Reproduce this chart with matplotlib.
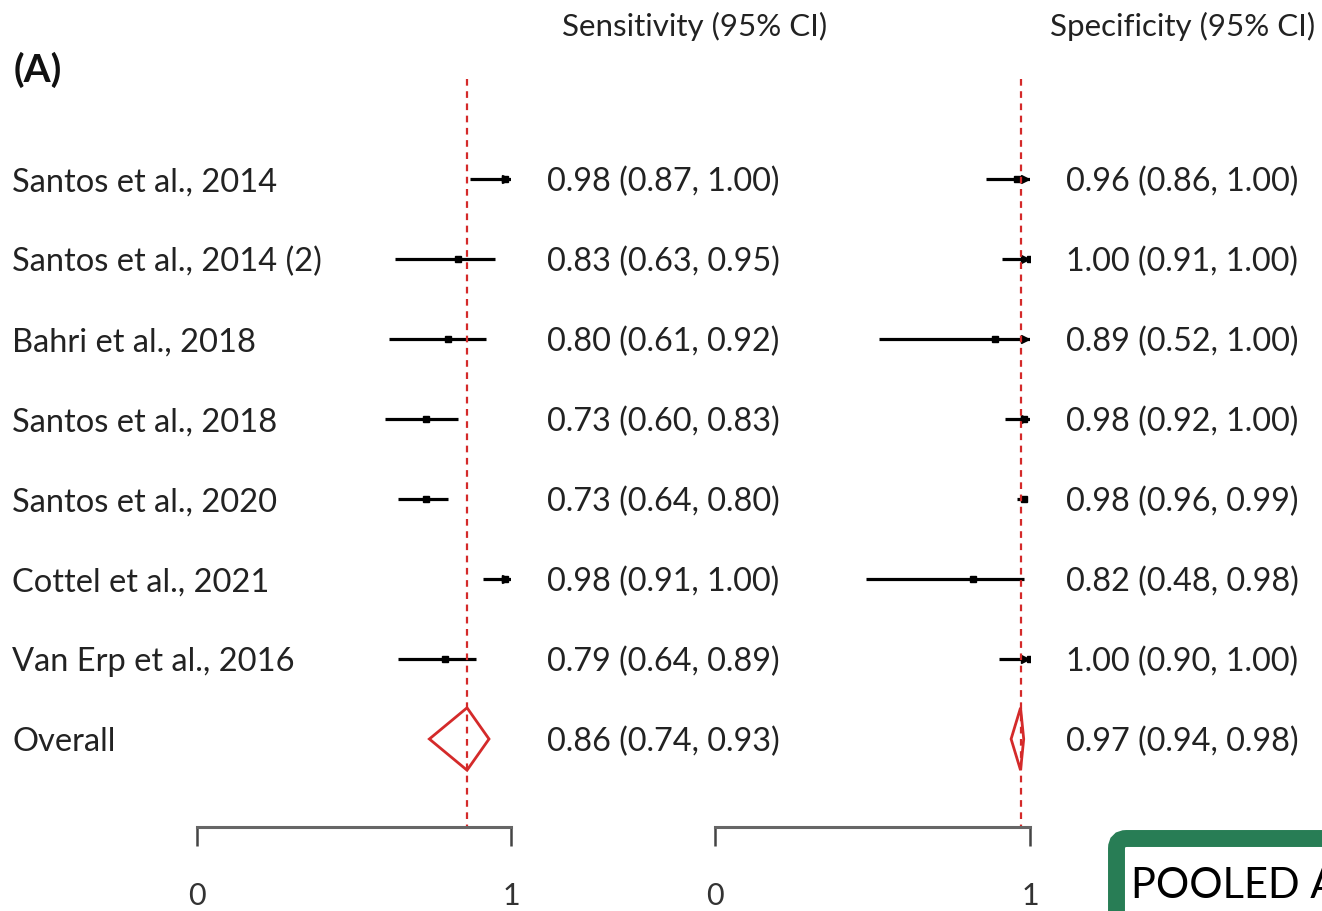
import numpy as np
import matplotlib
matplotlib.use("Agg")
import matplotlib.pyplot as plt
from matplotlib.patches import Polygon, FancyBboxPatch
from matplotlib.transforms import blended_transform_factory, IdentityTransform

plt.rcParams['font.family'] = ['Lato', 'DejaVu Sans']

studies = ["Santos et al., 2014", "Santos et al., 2014 (2)", "Bahri et al., 2018",
           "Santos et al., 2018", "Santos et al., 2020", "Cottel et al., 2021",
           "Van Erp et al., 2016"]
sens = [0.98, 0.83, 0.80, 0.73, 0.73, 0.98, 0.79]
sens_lo = [0.87, 0.63, 0.61, 0.60, 0.64, 0.91, 0.64]
sens_hi = [1.00, 0.95, 0.92, 0.83, 0.80, 1.00, 0.89]
spec = [0.96, 1.00, 0.89, 0.98, 0.98, 0.82, 1.00]
spec_lo = [0.86, 0.91, 0.52, 0.92, 0.96, 0.48, 0.90]
spec_hi = [1.00, 1.00, 1.00, 1.00, 0.99, 0.98, 1.00]
overall_sens = [0.86, 0.74, 0.93]
overall_spec = [0.97, 0.94, 0.98]

RED = '#d42a2a'
W, H = 1322, 912

fig = plt.figure(figsize=(W / 100, H / 100), dpi=100)

# row i sits at pixel 180 + 80*i from the top
def py(p):
    return (p - 180) / 80.0

def panel(x0, x1, est, lo, hi, pooled, header, header_x, text_x):
    ax = fig.add_axes([x0 / W, 0, (x1 - x0) / W, 1])
    ax.patch.set_visible(False)
    ax.set_xlim(0, 1)
    ax.set_ylim(py(H), py(0))
    rows = np.arange(len(est))
    ax.hlines(rows, lo, hi, color='black', lw=2.3)
    ax.plot(est, rows, 's', color='black', ms=4)
    for r, h in zip(rows, hi):
        if h >= 1.0:
            ax.plot(0.985, r, '>', color='black', ms=6, clip_on=False)
    e, l, h = pooled
    n = len(est)
    ax.add_patch(Polygon([[l, n], [e, n - 0.39], [h, n], [e, n + 0.39]],
                         closed=True, fill=False, edgecolor=RED, lw=2))
    ax.vlines(e, py(80), py(828), colors=RED, linestyles=(0, (3, 2.5)), lw=1.6)

    for s in ['top', 'left', 'right']:
        ax.spines[s].set_visible(False)
    ax.spines['bottom'].set_position(('data', py(828)))
    ax.spines['bottom'].set_color('#666666')
    ax.spines['bottom'].set_linewidth(2.2)
    ax.set_xticks([0, 1])
    ax.set_xticklabels(['0', '1'])
    ax.tick_params(axis='x', direction='out', length=14, width=1.8, color='#444444',
                   labelsize=22, pad=25, labelcolor='#333333')
    ax.set_yticks([])

    tr = blended_transform_factory(fig.transFigure, ax.transData)
    for r in rows:
        ax.text(text_x / W, r + 0.03, f"{est[r]:.2f} ({lo[r]:.2f}, {hi[r]:.2f})", transform=tr,
                ha='left', va='center', fontsize=23.3, color='#222222')
    ax.text(text_x / W, n + 0.03, f"{e:.2f} ({l:.2f}, {h:.2f})", transform=tr,
            ha='left', va='center', fontsize=23.3, color='#222222')
    ax.text(header_x / W, py(26), header, transform=tr, ha='center', va='center',
            fontsize=22.5, color='#222222')
    return ax, tr

ax_sens, tr = panel(197, 511, sens, sens_lo, sens_hi, overall_sens,
                    "Sensitivity (95% CI)", 695, 547)
ax_spec, _ = panel(715, 1030, spec, spec_lo, spec_hi, overall_spec,
                   "Specificity (95% CI)", 1183, 1066)

for i, name in enumerate(studies + ["Overall"]):
    ax_sens.text(12 / W, i + 0.03, name, transform=tr, ha='left', va='center',
                 fontsize=23.5, color='#222222')

ax_sens.text(14 / W, py(70), "(A)", transform=tr, ha='left', va='center',
             fontsize=28, fontweight='bold', color='#111111')

# green box cut off at the corner
box = FancyBboxPatch((1116.5, -60), 300, 912 - 831 - 8.5 + 60,
                     boxstyle="round,pad=0,rounding_size=10",
                     transform=IdentityTransform(), facecolor='white',
                     edgecolor='#287d55', lw=12.2)
fig.patches.append(box)
fig.text(1131, 912 - 898, "POOLED A", transform=IdentityTransform(),
         ha='left', va='baseline', fontsize=30, color='black')

fig.savefig("out.png", dpi=100)
